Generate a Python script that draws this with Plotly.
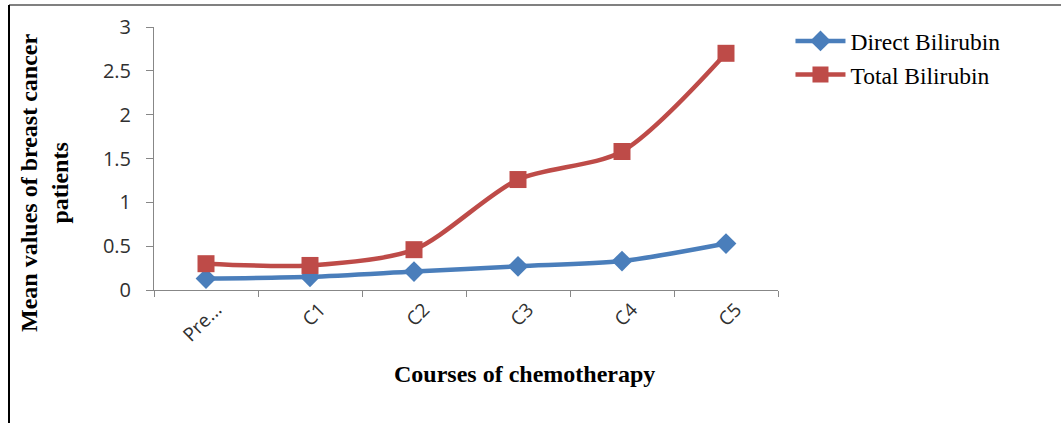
import plotly.graph_objects as go

categories = ["Pre...", "C1", "C2", "C3", "C4", "C5"]
direct_bilirubin = [0.13, 0.15, 0.21, 0.27, 0.33, 0.53]
total_bilirubin = [0.30, 0.28, 0.46, 1.26, 1.58, 2.70]
y_ticks = [0, 0.5, 1, 1.5, 2, 2.5, 3]
y_ticktext = ["0", "0.5", "1", "1.5", "2", "2.5", "3"]

fig = go.Figure()
fig.add_trace(go.Scatter(
    x=categories, y=direct_bilirubin, name="Direct Bilirubin",
    mode="lines+markers",
    line=dict(color="#4A7EBB", width=4.5, shape="spline", smoothing=0.8),
    marker=dict(symbol="diamond", size=16, color="#4A7EBB"),
))
fig.add_trace(go.Scatter(
    x=categories, y=total_bilirubin, name="Total Bilirubin",
    mode="lines+markers",
    line=dict(color="#BE4B48", width=4.5, shape="spline", smoothing=0.8),
    marker=dict(symbol="square", size=17, color="#BE4B48"),
))

fig.update_layout(
    width=1061, height=423,
    margin=dict(l=154, r=283, t=27, b=133),
    paper_bgcolor="white", plot_bgcolor="white",
    showlegend=True,
    legend=dict(x=1.02, y=1.03, xanchor="left", yanchor="top",
                font=dict(family="Liberation Serif", size=23.5, color="black"),
                tracegroupgap=0, itemwidth=50, bgcolor="rgba(0,0,0,0)"),
    font=dict(family="Open Sans", size=18, color="#404040"),
)
fig.update_xaxes(
    type="category", tickangle=-45, showline=True, linecolor="#878787", linewidth=1,
    ticks="outside", tickson="boundaries", ticklen=6, tickcolor="#878787",
    showgrid=False, tickfont=dict(family="Open Sans", size=19, color="#303030"),
    ticklabelshift=10, ticklabelstandoff=0,
    range=[-0.5, 5.5],
)
fig.update_yaxes(
    range=[0, 3], tickvals=y_ticks, ticktext=y_ticktext,
    showline=True, linecolor="#878787", linewidth=1,
    ticks="outside", ticklen=7, tickcolor="#878787", showgrid=False, zeroline=False,
    tickfont=dict(family="Open Sans", size=20, color="#303030"),
    ticklabelstandoff=11,
)

fig.add_annotation(
    text="<b>Mean values of breast cancer<br>patients</b>", textangle=-90,
    xref="paper", yref="paper", x=(44 - 154) / 624, y=(290 - 182) / 263,
    xanchor="center", yanchor="middle", showarrow=False,
    font=dict(family="Liberation Serif", size=24, color="black"),
)
fig.add_annotation(
    text="<b>Courses of chemotherapy</b>",
    xref="paper", yref="paper", x=(524 - 154) / 624, y=(290 - 374) / 263,
    xanchor="center", yanchor="middle", showarrow=False,
    font=dict(family="Liberation Serif", size=24, color="black"),
)
# frame lines
fig.add_shape(type="line", xref="paper", yref="paper",
              x0=(9 - 154) / 624, x1=(1061 - 154) / 624,
              y0=(290 - 5) / 263, y1=(290 - 5) / 263,
              line=dict(color="#808080", width=2))
fig.add_shape(type="line", xref="paper", yref="paper",
              x0=(9 - 154) / 624, x1=(9 - 154) / 624,
              y0=(290 - 5) / 263, y1=(290 - 423) / 263,
              line=dict(color="black", width=2))

fig.write_html("out.html", config={"displayModeBar": False},
               post_script="document.body.style.margin='0';")
